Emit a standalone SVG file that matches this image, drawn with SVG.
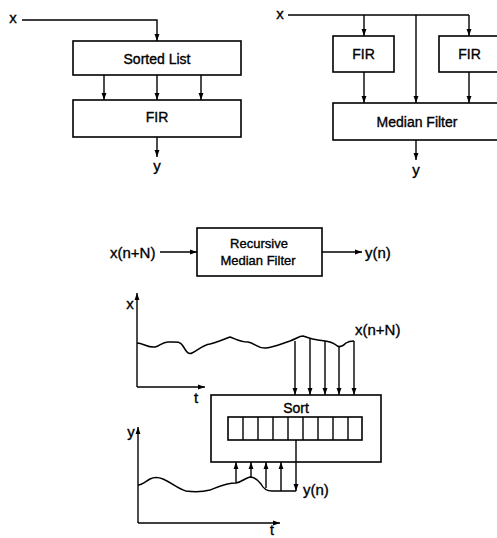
<svg xmlns="http://www.w3.org/2000/svg" width="497" height="538" viewBox="0 0 497 538">
<style>
  .box{fill:none;stroke:#000;stroke-width:1.6}
  .ln{fill:none;stroke:#000;stroke-width:1.4}
  .ar{fill:none;stroke:#000;stroke-width:1.4;marker-end:url(#ah)}
  .cv{fill:none;stroke:#000;stroke-width:1.5;stroke-linejoin:round}
  text{font-family:"Liberation Sans",Arial,sans-serif;fill:#000;stroke:#000;stroke-width:0.35}
  .t14{font-size:14px;text-anchor:middle}
  .t13{font-size:13px;text-anchor:middle}
  .lab{font-size:15px}
</style>
<defs>
  <marker id="ah" viewBox="0 0 10 10" refX="10" refY="5" markerWidth="7" markerHeight="7" markerUnits="userSpaceOnUse" orient="auto">
    <path d="M0,1.5 L10,5 L0,8.5 Z" fill="#000"/>
  </marker>
</defs>

<!-- Top-left diagram -->
<g id="tl-sorted">
  <rect class="box" x="73" y="41" width="168" height="34"/>
  <text class="t14" x="157" y="64">Sorted List</text>
</g>
<g id="tl-fir">
  <rect class="box" x="73" y="100" width="168" height="37"/>
  <text class="t14" x="157" y="122">FIR</text>
</g>
<g id="tl-labels">
  <text class="lab" x="13" y="23" text-anchor="middle">x</text>
  <text class="lab" x="157" y="171" text-anchor="middle">y</text>
</g>

<!-- Top-right diagram -->
<g id="tr-fir1">
  <rect class="box" x="333" y="36" width="61" height="36"/>
  <text class="t14" x="363.5" y="59">FIR</text>
</g>
<g id="tr-fir2">
  <rect class="box" x="439" y="36" width="64" height="36"/>
  <text class="t14" x="469.5" y="59">FIR</text>
</g>
<g id="tr-median">
  <rect class="box" x="333" y="103" width="170" height="37"/>
  <text class="t14" x="417" y="127">Median Filter</text>
</g>
<g id="tr-labels">
  <text class="lab" x="280" y="19" text-anchor="middle">x</text>
  <text class="lab" x="416" y="175" text-anchor="middle">y</text>
</g>

<!-- Middle diagram -->
<g id="rmf">
  <rect class="box" x="197" y="228" width="125" height="48"/>
  <text class="t13" x="259" y="248">Recursive</text>
  <text class="t13" x="258" y="265">Median Filter</text>
</g>
<g id="rmf-labels">
  <text class="lab" x="110" y="258">x(n+N)</text>
  <text class="lab" x="365" y="258">y(n)</text>
</g>

<!-- Lower plots -->
<g id="plot-x">
  <text class="lab" x="130" y="309" text-anchor="middle">x</text>
  <text class="lab" x="196" y="403" text-anchor="middle">t</text>
  <text class="lab" x="355" y="335">x(n+N)</text>
  <path class="cv" d="M137,343 C143,343 148,348 155,347 C160,346 162,342 168,342 C176,342 180,341 183,346 C186,351 188,355 192,353 C198,350 203,345 210,344 C218,342 224,339 230,337 C236,339 240,342 248,342 C255,343 258,349 266,348 C275,347 283,343 290,341 C296,339 299,336 303,336 C307,337 310,339 318,340 C326,341 332,341 336,345 C339,348 343,346 346,343 C349,341 351,341 354,341"/>
</g>
<g id="plot-y">
  <text class="lab" x="131" y="437" text-anchor="middle">y</text>
  <text x="272" y="535" text-anchor="middle" font-size="14">t</text>
  <text class="lab" x="303" y="495">y(n)</text>
  <path class="cv" d="M138,485 C143,485 146,481 150,479 C154,477 158,477 163,479 C172,483 178,489 186,491 C194,492 202,492 210,490 C218,487 226,483 236,483 C242,482 245,478 250,477 C255,477 258,480 261,484 C263,488 266,491 272,491 L296,491"/>
</g>
<g id="sort">
  <rect class="box" x="211" y="395" width="170" height="67"/>
  <text class="t14" x="296" y="413">Sort</text>
  <rect class="box" x="228" y="417" width="134" height="23"/>
  <path class="ln" d="M243,417V440 M258,417V440 M273,417V440 M288,417V440 M303,417V440 M318,417V440 M333,417V440 M348,417V440"/>
</g>

<!-- Connectors -->
<g id="connectors">
  <!-- top-left -->
  <path class="ar" d="M22,20 H157 V41"/>
  <path class="ar" d="M104,75 V100"/>
  <path class="ar" d="M157,75 V100"/>
  <path class="ar" d="M201,75 V100"/>
  <path class="ar" d="M157,137 V157"/>
  <!-- top-right -->
  <path class="ln" d="M288,15 H469"/>
  <path class="ar" d="M364,15 V36"/>
  <path class="ar" d="M469,15 V36"/>
  <path class="ar" d="M416,15 V103"/>
  <path class="ar" d="M364,72 V103"/>
  <path class="ar" d="M469,72 V103"/>
  <path class="ar" d="M416,140 V160"/>
  <!-- middle -->
  <path class="ar" d="M160,252 H197"/>
  <path class="ar" d="M322,252 H362"/>
  <!-- axes -->
  <path class="ar" d="M137,387 V293"/>
  <path class="ar" d="M137,387 H205"/>
  <path class="ar" d="M138,523 V427"/>
  <path class="ar" d="M138,523 H280"/>
  <!-- x samples into sort -->
  <path class="ar" d="M295,341 V395"/>
  <path class="ar" d="M310,338 V395"/>
  <path class="ar" d="M325,341 V395"/>
  <path class="ar" d="M339,347 V395"/>
  <path class="ar" d="M354,341 V395"/>
  <!-- y samples back into sort -->
  <path class="ar" d="M236,483 V462"/>
  <path class="ar" d="M251,477 V462"/>
  <path class="ar" d="M266,488 V462"/>
  <path class="ar" d="M281,491 V462"/>
  <!-- output -->
  <path class="ar" d="M296,440 V491"/>
</g>
</svg>
